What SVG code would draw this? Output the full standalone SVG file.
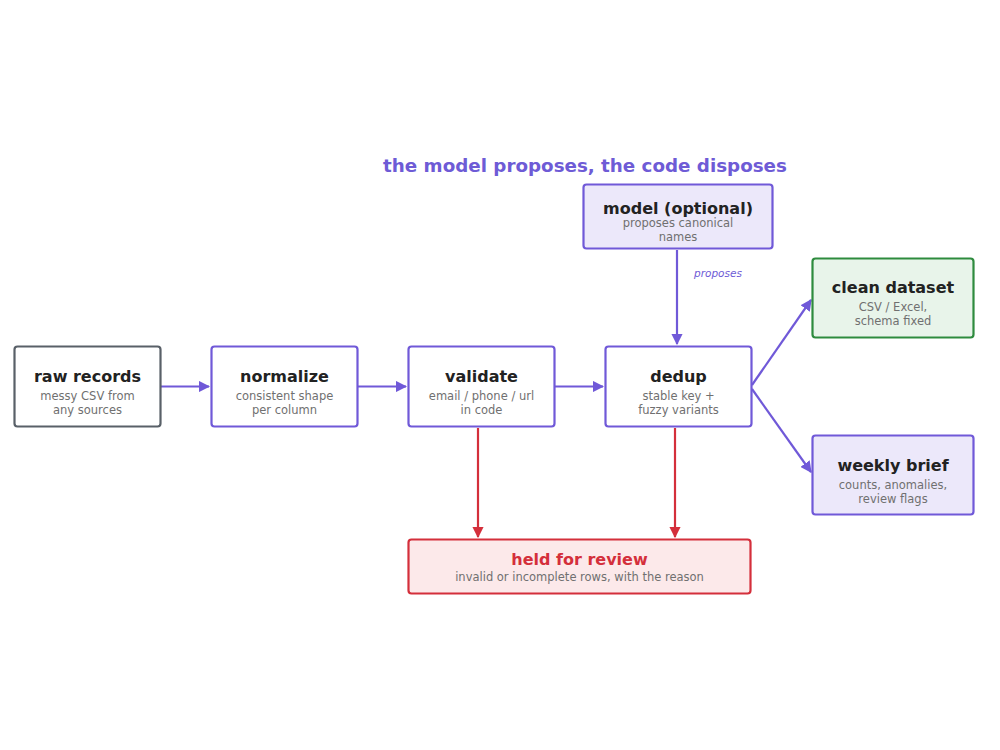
<svg xmlns="http://www.w3.org/2000/svg" width="1000" height="750" viewBox="0 0 1000 750">
<style>
.box{fill:#ffffff;stroke:#7059d8;stroke-width:2.2}
.soft{fill:#ece8fa}
.t{font-family:"DejaVu Sans",sans-serif;font-weight:bold;font-size:16px;fill:#222222;text-anchor:middle}
.s{font-family:"DejaVu Sans",sans-serif;font-size:11.5px;fill:#707070;text-anchor:middle}
.e{fill:none;stroke:#7059d8;stroke-width:2.2}
.r{fill:none;stroke:#d42f3b;stroke-width:2.2}
</style>
<defs>
<marker id="ap" viewBox="0 0 10 10" refX="9" refY="5" markerWidth="5.2" markerHeight="5.2" orient="auto" markerUnits="strokeWidth"><path d="M0,0 L10,5 L0,10 z" fill="#7059d8"/></marker>
<marker id="ar" viewBox="0 0 10 10" refX="9" refY="5" markerWidth="5.2" markerHeight="5.2" orient="auto" markerUnits="strokeWidth"><path d="M0,0 L10,5 L0,10 z" fill="#d42f3b"/></marker>
</defs>
<rect width="1000" height="750" fill="#ffffff"/>
<text x="585" y="172" font-family="DejaVu Sans, sans-serif" font-weight="bold" font-size="18.3" fill="#6e5bd6" text-anchor="middle">the model proposes, the code disposes</text>
<g id="connectors">
<line class="e" x1="161" y1="386.5" x2="209" y2="386.5" marker-end="url(#ap)"/>
<line class="e" x1="358" y1="386.5" x2="406" y2="386.5" marker-end="url(#ap)"/>
<line class="e" x1="555" y1="386.5" x2="603" y2="386.5" marker-end="url(#ap)"/>
<line class="e" x1="677" y1="250" x2="677" y2="344" marker-end="url(#ap)"/>
<text x="694" y="277" font-family="DejaVu Sans, sans-serif" font-style="italic" font-size="10.5" fill="#6e5bd6">proposes</text>
<line class="e" x1="752" y1="385" x2="811" y2="300" marker-end="url(#ap)"/>
<line class="e" x1="752" y1="389" x2="811" y2="472" marker-end="url(#ap)"/>
<line class="r" x1="478" y1="428" x2="478" y2="537" marker-end="url(#ar)"/>
<line class="r" x1="675" y1="428" x2="675" y2="537" marker-end="url(#ar)"/>
</g>
<g id="model">
<rect class="box soft" x="583.5" y="184.5" width="189" height="64" rx="3"/>
<text class="t" x="678" y="214">model (optional)</text>
<text class="s" x="678" y="227">proposes canonical</text>
<text class="s" x="678" y="241">names</text>
</g>
<g id="raw">
<rect class="box" style="stroke:#596068" x="14.5" y="346.5" width="146" height="80" rx="3"/>
<text class="t" x="87.5" y="382">raw records</text>
<text class="s" x="87.5" y="400">messy CSV from</text>
<text class="s" x="87.5" y="414">any sources</text>
</g>
<g id="normalize">
<rect class="box" x="211.5" y="346.5" width="146" height="80" rx="3"/>
<text class="t" x="284.5" y="382">normalize</text>
<text class="s" x="284.5" y="400">consistent shape</text>
<text class="s" x="284.5" y="414">per column</text>
</g>
<g id="validate">
<rect class="box" x="408.5" y="346.5" width="146" height="80" rx="3"/>
<text class="t" x="481.5" y="382">validate</text>
<text class="s" x="481.5" y="400">email / phone / url</text>
<text class="s" x="481.5" y="414">in code</text>
</g>
<g id="dedup">
<rect class="box" x="605.5" y="346.5" width="146" height="80" rx="3"/>
<text class="t" x="678.5" y="382">dedup</text>
<text class="s" x="678.5" y="400">stable key +</text>
<text class="s" x="678.5" y="414">fuzzy variants</text>
</g>
<g id="clean">
<rect class="box" style="fill:#e8f4ea;stroke:#2e8b3e" x="812.5" y="258.5" width="161" height="79" rx="3"/>
<text class="t" x="893" y="293">clean dataset</text>
<text class="s" x="893" y="311">CSV / Excel,</text>
<text class="s" x="893" y="325">schema fixed</text>
</g>
<g id="weekly">
<rect class="box soft" x="812.5" y="435.5" width="161" height="79" rx="3"/>
<text class="t" x="893" y="471">weekly brief</text>
<text class="s" x="893" y="489">counts, anomalies,</text>
<text class="s" x="893" y="503">review flags</text>
</g>
<g id="held">
<rect class="box" style="fill:#fce9ea;stroke:#d42f3b" x="408.5" y="539.5" width="342" height="54" rx="3"/>
<text class="t" style="fill:#d42f3b" x="579.5" y="565">held for review</text>
<text class="s" x="579.5" y="581">invalid or incomplete rows, with the reason</text>
</g>
</svg>
